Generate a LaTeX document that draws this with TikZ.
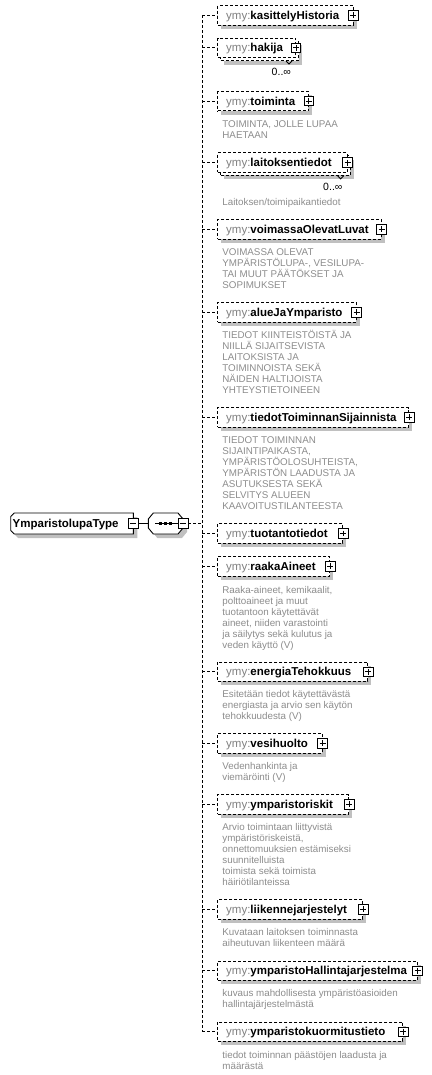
\documentclass[tikz,border=0pt]{standalone}
\usepackage{fontspec}
\setmainfont{Liberation Sans}
\usetikzlibrary{calc}
\definecolor{shgray}{HTML}{C0C0C0}
\definecolor{pfxgray}{HTML}{808080}
\definecolor{descgray}{HTML}{8C8C8C}
\tikzset{
  thinln/.style={line width=0.9pt},
  dsh/.style={line width=0.9pt, dash pattern=on 3pt off 2pt},
  elbox/.style={draw, dsh, fill=white, rectangle, inner sep=0pt, minimum height=19.5pt, anchor=west},
  eltext/.style={anchor=base west, inner sep=0pt, font=\fontsize{11.5}{13}\selectfont},
  desc/.style={anchor=north west, inner sep=0pt, align=left, text=descgray, font=\fontsize{9.8}{11}\selectfont},
  occ/.style={anchor=east, inner sep=0pt, font=\fontsize{10.5}{12}\selectfont},
  plusbox/.style={draw, thinln, fill=white, rectangle, inner sep=0pt, minimum size=9.5pt,
    path picture={\draw[thinln] ([xshift=1.8pt]path picture bounding box.west) -- ([xshift=-1.8pt]path picture bounding box.east)
      ([yshift=-1.8pt]path picture bounding box.north) -- ([yshift=1.8pt]path picture bounding box.south);}},
  minusbox/.style={draw, thinln, fill=white, rectangle, inner sep=0pt, minimum size=9.5pt,
    path picture={\draw[thinln] ([xshift=1.8pt]path picture bounding box.west) -- ([xshift=-1.8pt]path picture bounding box.east);}},
}
% single element: name, cy, rx, label
\newcommand\elem[4]{%
  \pgfmathsetmacro\elw{#3-217.3}%
  \fill[shgray] (221.3,#2-5.75) rectangle (#3+4,#2+13.75);
  \node[elbox, minimum width=\elw pt] (#1) at (217.3,#2) {};
  \node[eltext] (#1-t) at (226,#2+4) {\textcolor{pfxgray}{ymy:}\textbf{#4}};
  \node[plusbox] (#1-p) at (#1.east) {};
  \draw[dsh] (#1.west -| vtop) -- (#1.west);
}
% multiple element: name, cy, rx, label
\newcommand\elemm[4]{%
  \pgfmathsetmacro\elw{#3-217.3}%
  \fill[shgray] (224.3,#2-2.75) rectangle (#3+7,#2+16.75);
  \node[elbox, minimum width=\elw pt] (#1-b) at (220.3,#2+3) {};
  \node[elbox, minimum width=\elw pt] (#1) at (217.3,#2) {};
  \node[eltext] (#1-t) at (226,#2+4) {\textcolor{pfxgray}{ymy:}\textbf{#4}};
  \node[plusbox] (#1-p) at (#1.east) {};
  \draw[thinln] ([xshift=-13pt]#1-b.south east) -- ([xshift=-10pt,yshift=-3pt]#1-b.south east) -- ([xshift=-7pt]#1-b.south east);
  \node[occ] (#1-o) at ([xshift=-8pt,yshift=-11.3pt]#1-b.south east) {0..∞};
  \draw[dsh] (#1.west -| vtop) -- (#1.west);
}
\newcommand\desctext[3]{\node[desc] (#1) at (222.2,#2-5.5) {\rule{0pt}{9pt}#3};}
\begin{document}
\begin{tikzpicture}[x=1pt,y=-1pt]
\useasboundingbox (0,0) rectangle (431,1075);
\coordinate (vtop) at (202.3,15.3);
\coordinate (vbot) at (202.3,1031.7);
\draw[dsh] (vtop) -- (vbot);

% root
\fill[shgray] (18.2,517) -- (137.3,517) -- (137.3,538) -- (18.2,538) -- (14.7,534.5) -- (14.7,520.5) -- cycle;
\draw[thinln, fill=white] (14.2,513) -- (133.3,513) -- (133.3,534) -- (14.2,534) -- (10.7,530.5) -- (10.7,516.5) -- cycle;
\node[eltext] (root) at (12.5,527.6) {\textbf{YmparistolupaType}};
\node[minusbox] (rootm) at (133.3,523.5) {};

% sequence
\fill[shgray] (157.3,517) -- (182,517) -- (187,523) -- (187,532) -- (182,538) -- (157.3,538) -- (152.3,532) -- (152.3,523) -- cycle;
\draw[thinln, fill=white] (153.3,513) -- (178,513) -- (183,519) -- (183,528) -- (178,534) -- (153.3,534) -- (148.3,528) -- (148.3,519) -- cycle;
\node[inner sep=0pt, minimum width=34.7pt, minimum height=21pt] (seq) at (165.65,523.5) {};
\draw[thinln] (155,523.5) -- (178,523.5);
\foreach \dx in {160.2,165.4,170.6} {\fill (\dx-1.5,522) rectangle (\dx+1.5,525);}
\node[minusbox] (seqm) at (seq.east) {};
\draw[thinln] (rootm.east) -- (seq.west);
\draw[dsh] (seqm.east) -- (seqm.east -| vtop);

% elements
\elem{e1}{15.3}{352.5}{kasittelyHistoria}
\elemm{e2}{47.8}{295.2}{hakija}
\elem{e3}{101.2}{308}{toiminta}
\desctext{d3}{124}{TOIMINTA, JOLLE LUPAA\\HAETAAN}
\elemm{e4}{162.7}{346.7}{laitoksentiedot}
\desctext{d4}{201.7}{Laitoksen/toimipaikantiedot}
\elem{e5}{229.3}{380.7}{voimassaOlevatLuvat}
\desctext{d5}{251.7}{VOIMASSA OLEVAT\\YMPÄRISTÖLUPA-, VESILUPA-\\TAI MUUT PÄÄTÖKSET JA\\SOPIMUKSET}
\elem{e6}{312.3}{355.7}{alueJaYmparisto}
\desctext{d6}{334.3}{TIEDOT KIINTEISTÖISTÄ JA\\NIILLÄ SIJAITSEVISTA\\LAITOKSISTA JA\\TOIMINNOISTA SEKÄ\\NÄIDEN HALTIJOISTA\\YHTEYSTIETOINEEN}
\elem{e7}{417.3}{408.3}{tiedotToiminnanSijainnista}
\desctext{d7}{439.3}{TIEDOT TOIMINNAN\\SIJAINTIPAIKASTA,\\YMPÄRISTÖOLOSUHTEISTA,\\YMPÄRISTÖN LAADUSTA JA\\ASUTUKSESTA SEKÄ\\SELVITYS ALUEEN\\KAAVOITUSTILANTEESTA}
\elem{e8}{533.5}{342.3}{tuotantotiedot}
\elem{e9}{566.3}{329.3}{raakaAineet}
\desctext{d9}{589.3}{Raaka-aineet, kemikaalit,\\polttoaineet ja muut\\tuotantoon käytettävät\\aineet, niiden varastointi\\ja säilytys sekä kulutus ja\\veden käyttö (V)}
\elem{e10}{671.7}{367.3}{energiaTehokkuus}
\desctext{d10}{693.3}{Esitetään tiedot käytettävästä\\energiasta ja arvio sen käytön\\tehokkuudesta (V)}
\elem{e11}{743.3}{321.7}{vesihuolto}
\desctext{d11}{765.7}{Vedenhankinta ja\\viemäröinti (V)}
\elem{e12}{804.3}{348.3}{ymparistoriskit}
\desctext{d12}{826.7}{Arvio toimintaan liittyvistä\\ympäristöriskeistä,\\onnettomuuksien estämiseksi\\suunnitelluista\\toimista sekä toimista\\häiriötilanteissa}
\elem{e13}{909.3}{362.3}{liikennejarjestelyt}
\desctext{d13}{931.7}{Kuvataan laitoksen toiminnasta\\aiheutuvan liikenteen määrä}
\elem{e14}{970.7}{416.7}{ymparistoHallintajarjestelma}
\desctext{d14}{992.3}{kuvaus mahdollisesta ympäristöasioiden\\hallintajärjestelmästä}
\elem{e15}{1031.7}{402.3}{ymparistokuormitustieto}
\desctext{d15}{1054.3}{tiedot toiminnan päästöjen laadusta ja\\määrästä}
\end{tikzpicture}
\end{document}
